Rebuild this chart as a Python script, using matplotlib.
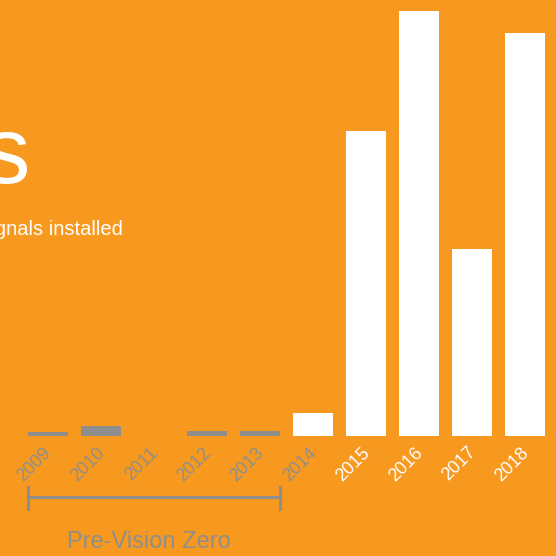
import matplotlib.pyplot as plt
from matplotlib.transforms import offset_copy

# bar chart data
years = ["2009", "2010", "2011", "2012", "2013", "2014", "2015", "2016", "2017", "2018"]
installed = [4, 10, 0, 5, 5, 23, 305, 425, 187, 403]
pre_vision_zero = ["2009", "2010", "2011", "2012", "2013"]

orange = "#F7991F"
gray = "#8E8E8E"
white = "#FFFFFF"

plt.rcParams['font.family'] = ['Liberation Sans', 'DejaVu Sans']

fig = plt.figure(figsize=(5.56, 5.56), dpi=100, facecolor=orange)
ax = fig.add_axes([0, 0, 1, 1])
ax.set_facecolor(orange)
ax.set_axis_off()

step = 53.0
ax.set_xlim(-48 / step, (556 - 48) / step)
ax.set_ylim(-120, 436)

x = list(range(len(years)))
bar_colors = [gray if y in pre_vision_zero else white for y in years]
ax.bar(x, installed, width=40 / step, color=bar_colors, linewidth=0)

# year labels, rotated
for i, yr in enumerate(years):
    col = gray if yr in pre_vision_zero or yr == "2014" else white
    tr = offset_copy(ax.transData, fig=fig, x=7, y=-8, units='dots')
    ax.text(i, 0, yr, transform=tr, rotation=45, ha='right', va='top',
            fontsize=13, color=col)

# bracket under the pre-vision-zero years
first = years.index(pre_vision_zero[0])
last = years.index(pre_vision_zero[-1])
half = 20 / step
ax.plot([first - half, last + half], [-61, -61], color=gray, lw=2.2,
        solid_capstyle='butt')
ax.plot([first - half, first - half], [-51, -73], color=gray, lw=2.2)
ax.plot([last + half, last + half], [-51, -73], color=gray, lw=2.2)
ax.text((first + last) / 2 - 0.1, -112, "Pre-Vision Zero", ha='center',
        va='baseline', fontsize=17, color=gray)

# title, cut off at the left edge
fig.text(30 / 556, 373 / 556, "Accessible Pedestrian Signals", ha='right',
         va='baseline', fontsize=68, color=white)
fig.text(123 / 556, 321 / 556, "Accessible pedestrian signals installed",
         ha='right', va='baseline', fontsize=14.5, color=white)

fig.savefig("out.png", dpi=100, facecolor=orange)
